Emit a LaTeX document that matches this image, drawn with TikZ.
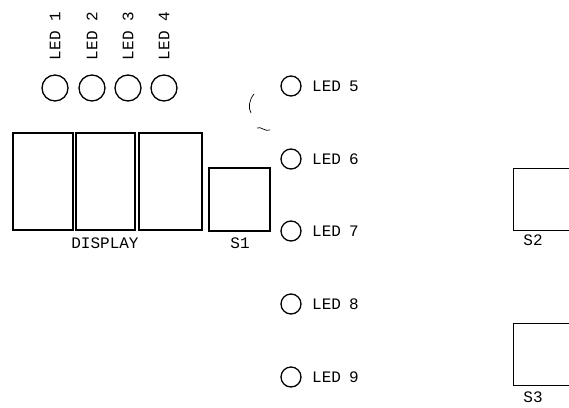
\documentclass[tikz,border=0pt]{standalone}
\usepackage{fontspec}
\newfontfamily\pixfont{Liberation Mono}
\begin{document}
\begin{tikzpicture}[x=1pt,y=-1pt,
  ln/.style={draw=black,line width=1.3pt},
  bigled/.style={ln,circle,minimum size=26pt,inner sep=0pt},
  smallled/.style={ln,circle,minimum size=20pt,inner sep=0pt},
  lbl/.style={font=\pixfont\fontsize{16}{16}\selectfont,inner sep=0pt,text=black},
  boxr/.style={ln,rectangle,inner sep=0pt}]
\clip (0,0) rectangle (569,407);
\useasboundingbox (0,0) rectangle (569,407);
% top LEDs
\foreach \i/\x in {1/55,2/92,3/128,4/164}{
  \node[bigled] (t\i) at (\x,88) {};
  \node[lbl,rotate=90] (tl\i) at (\x,36) {LED \i};
}
% display
\node[boxr,minimum width=60pt,minimum height=97pt] (d1) at (43,181.5) {};
\node[boxr,minimum width=59pt,minimum height=97pt] (d2) at (105.5,181.5) {};
\node[boxr,minimum width=63pt,minimum height=97pt] (d3) at (170.5,181.5) {};
\node[lbl] (dl) at (105,243) {DISPLAY};
% S1
\node[boxr,minimum width=61pt,minimum height=63pt] (s1) at (239.5,199.5) {};
\node[lbl] (s1l) at (240,243) {S1};
% right LEDs
\foreach \i/\y in {5/86,6/159,7/231,8/304,9/377}{
  \node[smallled] (r\i) at (291,\y) {};
  \node[lbl,anchor=west] (rl\i) at (312,\y) {LED\hspace{8pt}\i};
}
% S2, S3
\node[boxr,minimum width=62pt,minimum height=62pt,anchor=north west] (s2) at (513,168) {};
\node[lbl] (s2l) at (533,240) {S2};
\node[boxr,minimum width=62pt,minimum height=62pt,anchor=north west] (s3) at (513,323) {};
\node[lbl] (s3l) at (533,397) {S3};
% stray pencil marks
\draw[line width=0.7pt] (254,94) .. controls (249,100) and (248,108) .. (251,113);
\draw[line width=0.7pt] (257,128) .. controls (261,126) and (265,132) .. (270,130);
\end{tikzpicture}
\end{document}
